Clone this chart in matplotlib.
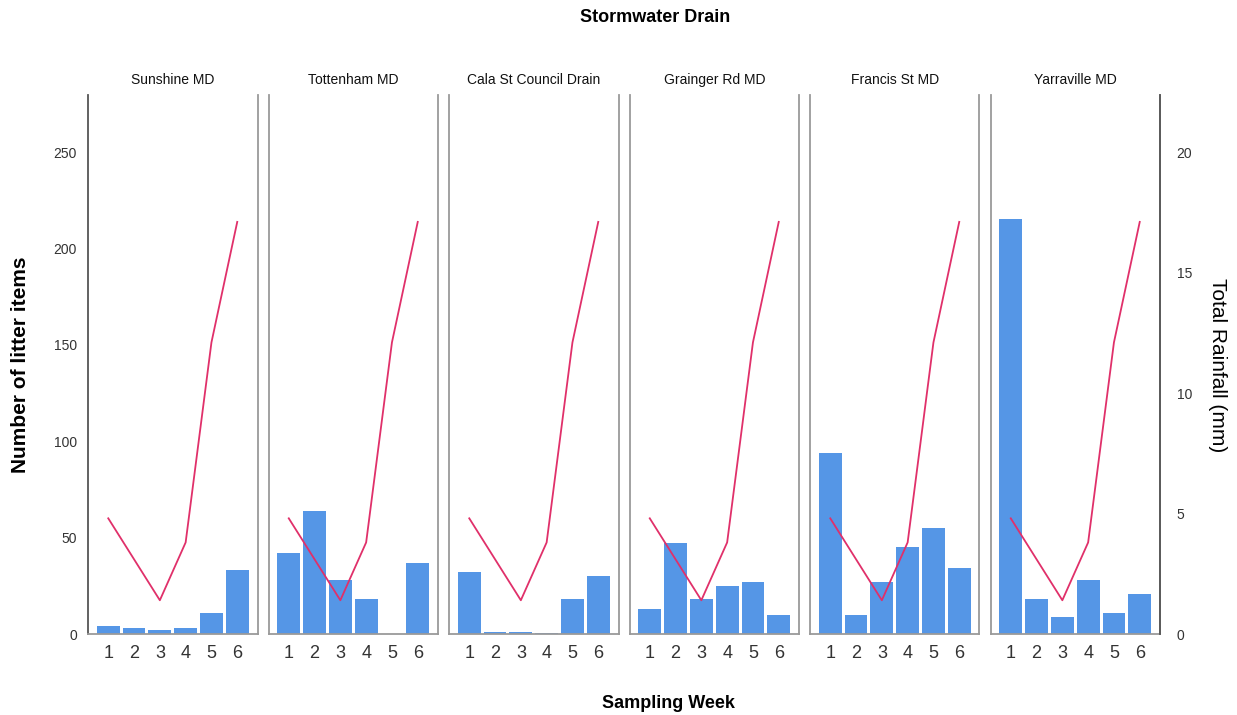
import matplotlib
matplotlib.use('Agg')
import matplotlib.pyplot as plt
import numpy as np

plt.rcParams['font.family'] = ['Liberation Sans', 'DejaVu Sans']

# data
drains = ['Sunshine MD', 'Tottenham MD', 'Cala St Council Drain',
          'Grainger Rd MD', 'Francis St MD', 'Yarraville MD']
weeks = [1, 2, 3, 4, 5, 6]
litter = {
    'Sunshine MD':           [4, 3, 2, 3, 11, 33],
    'Tottenham MD':          [42, 64, 28, 18, 0, 37],
    'Cala St Council Drain': [32, 1, 1, 0.5, 18, 30],
    'Grainger Rd MD':        [13, 47, 18, 25, 27, 10],
    'Francis St MD':         [94, 10, 27, 45, 55, 34],
    'Yarraville MD':         [215, 18, 9, 28, 11, 21],
}
rainfall = [4.8, 3.1, 1.4, 3.8, 12.1, 17.1]

bar_col = '#5596e6'
line_col = '#e0306a'
frame_col = '#9a9a9a'

fig = plt.figure(figsize=(12.37, 7.15), dpi=100)

W, H = 1237, 715
x0, x1 = 88, 1160
y_bot, y_top = 634, 95
gap = 11
pw = (x1 - x0 - 5 * gap) / 6
ymax = (y_bot - y_top) / 1.928
rmax = ymax * 20 / 250

for i, name in enumerate(drains):
    left = x0 + i * (pw + gap)
    ax = fig.add_axes([left / W, 1 - y_bot / H, pw / W, (y_bot - y_top) / H])
    ax.bar(weeks, litter[name], width=0.88, color=bar_col, zorder=2)
    ax.set_xlim(0.215, 6.785)
    ax.set_ylim(0, ymax)
    ax.set_xticks(weeks)
    ax.set_xticklabels([str(w) for w in weeks], fontsize=13, color='#333333')
    ax.tick_params(axis='x', length=0, pad=8)
    ax.set_title(name, fontsize=10, pad=8, color='#111111')
    ax.spines['top'].set_visible(False)
    for s in ['left', 'right', 'bottom']:
        ax.spines[s].set_color(frame_col)
        ax.spines[s].set_linewidth(1.3)

    ax2 = ax.twinx()
    ax2.plot(weeks, rainfall, color=line_col, lw=1.3, zorder=3)
    ax2.set_ylim(0, rmax)
    ax2.spines['top'].set_visible(False)

    if i == 0:
        ax.set_yticks([0, 50, 100, 150, 200, 250])
        ax.tick_params(axis='y', length=0, pad=8, labelsize=10, labelcolor='#333333')
        ax.spines['left'].set_color('#555555')
    else:
        ax.set_yticks([])
    if i == 5:
        ax2.set_yticks([0, 5, 10, 15, 20])
        ax2.tick_params(axis='y', length=0, pad=12, labelsize=10, labelcolor='#333333')
        ax2.spines['right'].set_color('#555555')
        ax2.spines['right'].set_linewidth(1.3)
    else:
        ax2.set_yticks([])
        ax2.spines['right'].set_visible(False)
    ax2.spines['left'].set_visible(False)
    ax2.spines['bottom'].set_visible(False)

fig.text(655 / W, 1 - 18 / H, 'Stormwater Drain', ha='center', va='center',
         fontsize=13, fontweight='bold')
fig.text(668 / W, 1 - 703 / H, 'Sampling Week', ha='center', va='center',
         fontsize=13, fontweight='bold')
fig.text(21 / W, 1 - 365 / H, 'Number of litter items', ha='center', va='center',
         rotation=90, fontsize=15, fontweight='bold')
fig.text(1218 / W, 1 - 365 / H, 'Total Rainfall (mm)', ha='center', va='center',
         rotation=270, fontsize=15)

fig.savefig('out.png', dpi=100)
